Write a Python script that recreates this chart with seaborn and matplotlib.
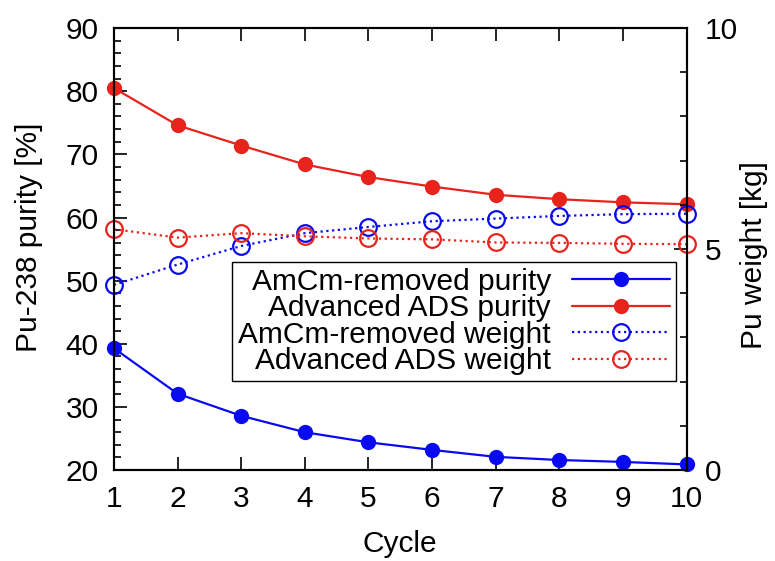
import matplotlib
matplotlib.use("Agg")
import matplotlib.pyplot as plt
import seaborn as sns
from matplotlib.ticker import MultipleLocator

# Cycle-by-cycle results
cycles = [1, 2, 3, 4, 5, 6, 7, 8, 9, 10]
amcm_purity = [39.3, 32.1, 28.6, 26.0, 24.4, 23.2, 22.1, 21.6, 21.3, 20.9]
ads_purity = [80.5, 74.6, 71.4, 68.4, 66.4, 64.9, 63.6, 62.9, 62.4, 62.1]
amcm_weight = [4.19, 4.65, 5.07, 5.36, 5.50, 5.63, 5.69, 5.75, 5.79, 5.80]
ads_weight = [5.45, 5.26, 5.36, 5.29, 5.24, 5.22, 5.15, 5.14, 5.12, 5.11]

labels = ["AmCm-removed purity", "Advanced ADS purity",
          "AmCm-removed weight", "Advanced ADS weight"]

sns.set_style("white")
plt.rcParams["font.family"] = ["Liberation Sans", "DejaVu Sans"]
plt.rcParams["text.color"] = "black"
plt.rcParams["axes.labelcolor"] = "black"
plt.rcParams["xtick.color"] = "black"
plt.rcParams["ytick.color"] = "black"
FS = 21.5
LFS = 21.5

BLUE = "#0a0af2"
RED = "#e8231c"

fig = plt.figure(figsize=(7.75, 5.61), dpi=100)
ax = fig.add_axes([0.147, 0.162, 0.739, 0.788])
ax2 = ax.twinx()

dotted = (0, (1, 1.6))
solid_kw = dict(marker="o", markersize=11, linewidth=1.6, clip_on=False,
                markeredgewidth=0)
open_kw = dict(marker="o", markersize=12, linewidth=1.6, clip_on=False,
               markerfacecolor="none", markeredgewidth=1.6, linestyle=dotted)

sns.lineplot(x=cycles, y=amcm_purity, ax=ax, color=BLUE,
             markerfacecolor=BLUE, markeredgecolor=BLUE, **solid_kw)
sns.lineplot(x=cycles, y=ads_purity, ax=ax, color=RED,
             markerfacecolor=RED, markeredgecolor=RED, **solid_kw)
sns.lineplot(x=cycles, y=amcm_weight, ax=ax2, color=BLUE,
             markeredgecolor=BLUE, **open_kw)
sns.lineplot(x=cycles, y=ads_weight, ax=ax2, color=RED,
             markeredgecolor=RED, **open_kw)

# Axis ranges and ticks
ax.set_xlim(1, 10)
ax.set_ylim(20, 90)
ax2.set_ylim(0, 10)
ax.xaxis.set_major_locator(MultipleLocator(1))
ax.yaxis.set_major_locator(MultipleLocator(10))
ax.yaxis.set_minor_locator(MultipleLocator(2))
ax2.yaxis.set_major_locator(MultipleLocator(5))
ax2.yaxis.set_minor_locator(MultipleLocator(1))

ax.tick_params(axis="x", which="major", direction="in", top=True, bottom=True,
               length=9.5, width=1.2, pad=11, labelsize=FS)
ax.tick_params(axis="y", which="major", direction="in", left=True, right=False,
               length=9.5, width=1.2, pad=11, labelsize=FS)
ax.tick_params(axis="y", which="minor", direction="in", left=True, right=False,
               length=5, width=1.2)
ax2.tick_params(axis="y", which="major", direction="in", right=True, left=False,
                length=9.5, width=1.2, pad=13, labelsize=FS)
ax2.tick_params(axis="y", which="minor", direction="in", right=True, left=False,
                length=5, width=1.2)

for a in (ax, ax2):
    for sp in a.spines.values():
        sp.set_visible(True)
        sp.set_color("black")
        sp.set_linewidth(1.5)

ax.set_xlabel("Cycle", fontsize=FS)
ax.set_ylabel("Pu-238 purity [%]", fontsize=FS)
ax2.set_ylabel("Pu weight [kg]", fontsize=FS)
ax.xaxis.set_label_coords(0.5, -0.135)
ax.yaxis.set_label_coords(-0.124, 0.527)
ax2.yaxis.set_label_coords(1.093, 0.486)

# Legend combining both axes, labels right-aligned with markers after text
handles = ax.get_lines() + ax2.get_lines()
leg = ax2.legend(handles, labels, loc="upper right",
                 bbox_to_anchor=(0.982, 0.471), bbox_transform=ax.transAxes,
                 markerfirst=False, fontsize=LFS, frameon=True, fancybox=False,
                 framealpha=1, edgecolor="black", borderpad=0.2,
                 labelspacing=-0.05, handlelength=3.3, handletextpad=0.7,
                 borderaxespad=0)
leg.get_frame().set_linewidth(1.0)

fig.savefig("out.png", dpi=100)
